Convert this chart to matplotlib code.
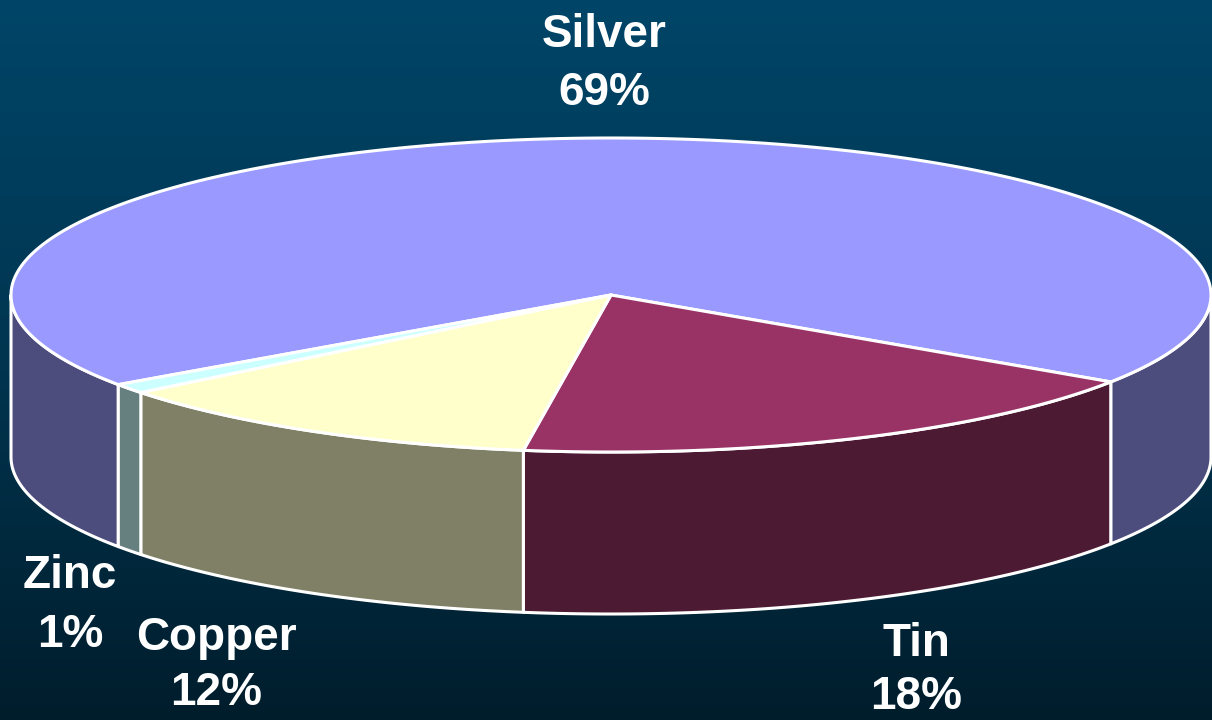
import numpy as np
import matplotlib
matplotlib.use("Agg")
import matplotlib.pyplot as plt
from matplotlib.patches import Polygon
from matplotlib.colors import LinearSegmentedColormap

# --- data ---------------------------------------------------------------
metals = ["Silver", "Tin", "Copper", "Zinc"]
shares = [69, 18, 12, 1]
pct_labels = ["69%", "18%", "12%", "1%"]
top_colors = ["#9999FF", "#993366", "#FFFFCC", "#CCFFFF"]
side_colors = ["#4D4D7D", "#4D1A33", "#808066", "#668080"]

# --- layout (pixel space) ----------------------------------------------
W, H = 1212, 720
cx, cy = 611.0, 295.0      # pie centre on the top face
rx, ry = 600.0, 157.0      # ellipse radii of the tilted disc
depth = 162.0              # thickness of the disc
start_deg = 214.8          # first slice starts here, slices run clockwise

label_pos = {              # (x centre, baseline of name, baseline of percent)
    "Silver": (604, 47, 105),
    "Tin": (916, 656, 709),
    "Copper": (216, 650, 705),
    "Zinc": (70, 588, 647),
}

fig = plt.figure(figsize=(W / 100, H / 100), dpi=100)
ax = fig.add_axes([0, 0, 1, 1])
ax.set_xlim(0, W)
ax.set_ylim(H, 0)
ax.axis("off")

# vertical background gradient
bg = LinearSegmentedColormap.from_list("bg", ["#004568", "#003550", "#001D2C"])
grad = np.linspace(0, 1, 256).reshape(-1, 1)
ax.imshow(grad, cmap=bg, extent=[0, W, H, 0], aspect="auto", zorder=0)


def ex(t):
    return cx + rx * np.cos(np.radians(t))


def ey(t):
    return cy - ry * np.sin(np.radians(t))


edge_lw = 2.2
angles = []
a = start_deg
for s in shares:
    span = 360.0 * s / sum(shares)
    angles.append((a - span, a))   # (low, high) in degrees
    a -= span

# side walls: only the front half (angles between 180 and 360) is visible
for (lo, hi), col in zip(angles, side_colors):
    for shift in (-360, 0, 360):
        a0 = max(lo + shift, 180)
        a1 = min(hi + shift, 360)
        if a1 - a0 <= 0:
            continue
        t = np.linspace(a0, a1, 200)
        xs = ex(t)
        top_y = ey(t)
        pts = np.column_stack([np.r_[xs, xs[::-1]],
                               np.r_[top_y, (top_y + depth)[::-1]]])
        ax.add_patch(Polygon(pts, closed=True, facecolor=col,
                             edgecolor="white", lw=edge_lw,
                             joinstyle="round", zorder=2))

# top face wedges
for (lo, hi), col in zip(angles, top_colors):
    t = np.linspace(lo, hi, 300)
    pts = np.column_stack([np.r_[cx, ex(t)], np.r_[cy, ey(t)]])
    ax.add_patch(Polygon(pts, closed=True, facecolor=col,
                         edgecolor="white", lw=edge_lw,
                         joinstyle="round", zorder=3))

# labels
font = dict(family=["Liberation Sans", "DejaVu Sans"], weight="bold",
            size=33, color="white", ha="center", va="baseline", zorder=5)
for name, pct in zip(metals, pct_labels):
    x, y1, y2 = label_pos[name]
    ax.text(x, y1, name, **font)
    ax.text(x, y2, pct, **font)

fig.savefig("out.png", dpi=100)
